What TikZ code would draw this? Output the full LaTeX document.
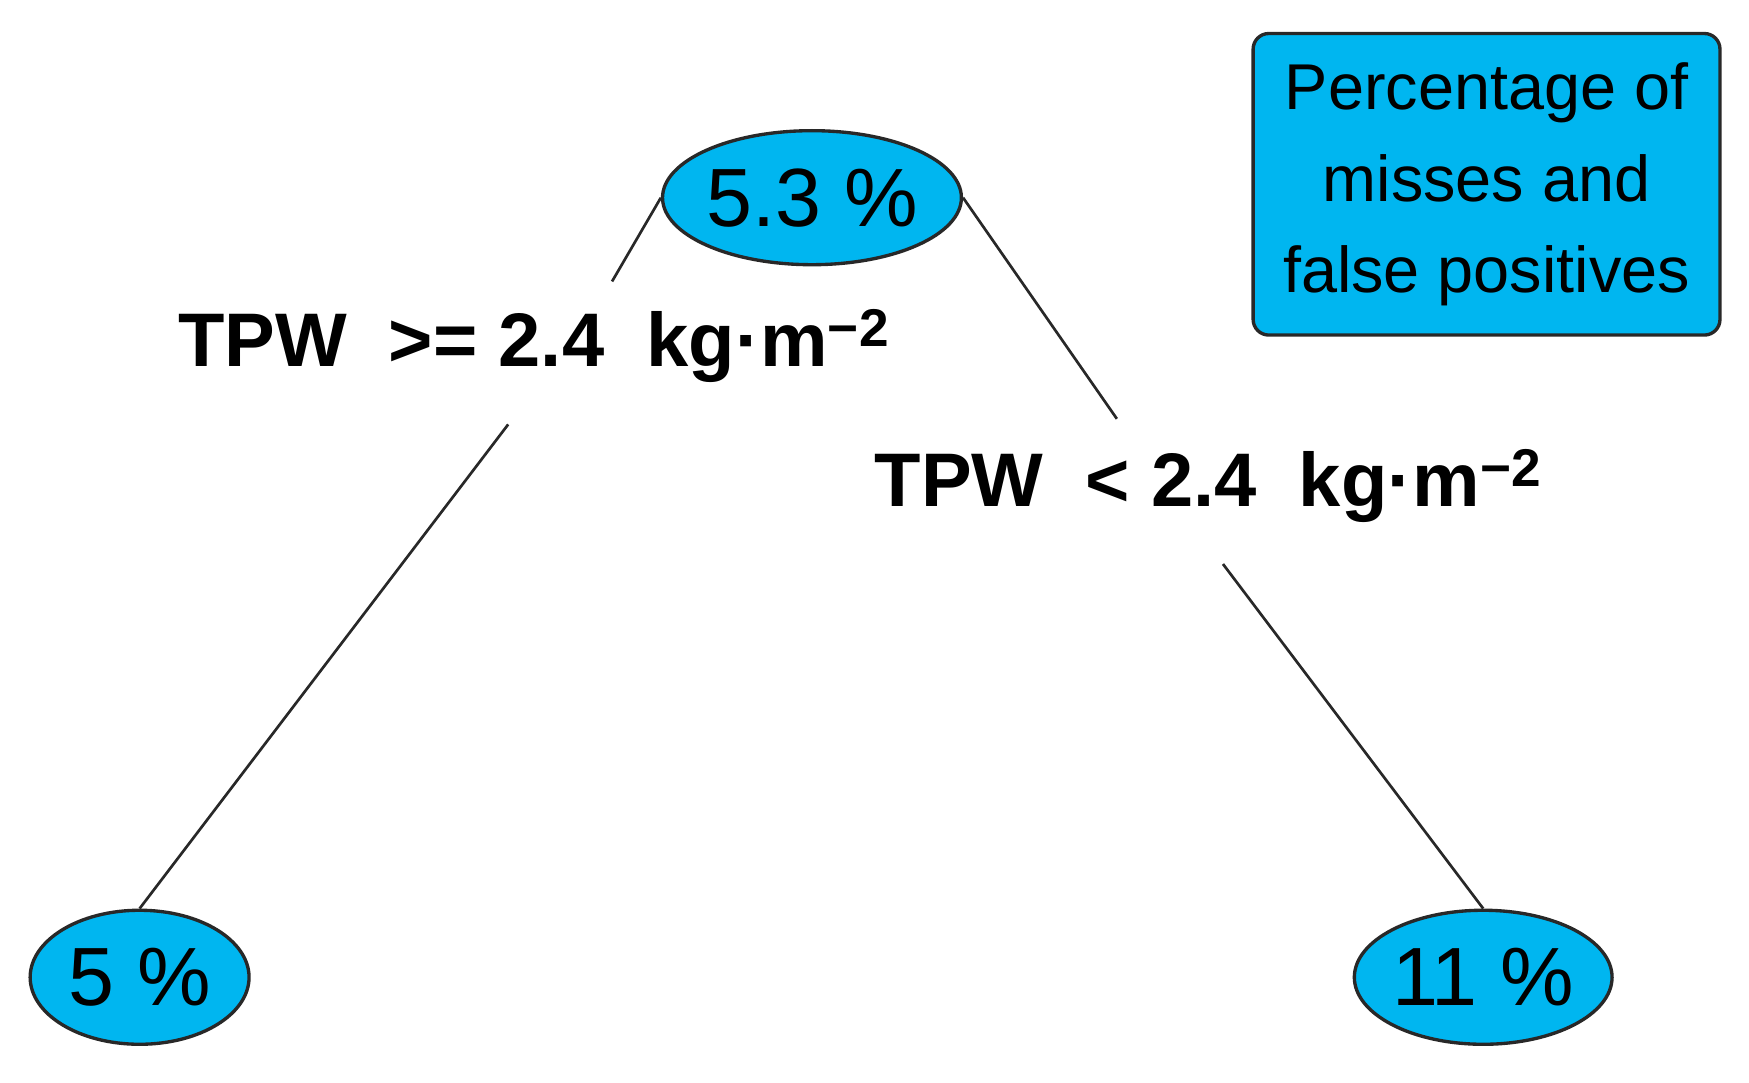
\documentclass[tikz,border=0pt]{standalone}
\usepackage{fontspec}
\setmainfont{Liberation Sans}
\definecolor{leafblue}{RGB}{0,182,240}
\tikzset{every picture/.style={line width=0.75pt}}
\tikzset{
  pctnode/.style={ellipse, draw={rgb,255:red,40;green,40;blue,40}, line width=1.5pt, fill=leafblue, inner sep=0pt, font=\fontsize{37}{44}\selectfont},
  rulelabel/.style={font=\fontsize{34}{40}\selectfont\bfseries},
  branch/.style={draw={rgb,255:red,40;green,40;blue,40}, line width=1.2pt}
}
\usetikzlibrary{shapes.geometric}
\begin{document}
\begin{tikzpicture}[x=0.5pt,y=0.5pt,yscale=-1,xscale=1]
\useasboundingbox (0,0) rectangle (1566,969);

% tree nodes
\node (root) [pctnode, minimum width=113pt, minimum height=60pt] at (727,177) {5.3 \%};
\node (lowleaf) [pctnode, minimum width=98pt, minimum height=60pt] at (125,875) {5 \%};
\node (highleaf) [pctnode, minimum width=105pt, minimum height=60pt] at (1328,875) {11 \%};

% legend box
\node (legend) [draw={rgb,255:red,40;green,40;blue,40}, line width=1.5pt, fill=leafblue, rounded corners=7pt, minimum width=209pt, minimum height=135pt, align=center, font=\fontsize{29}{41}\selectfont] at (1331,165) {Percentage of\\misses and\\ false positives};

% split labels
\node (ruleleft) [rulelabel] at (478,310) {TPW\ \ >= 2.4\ \ kg·m\textsuperscript{−2}};
\node (ruleright) [rulelabel] at (1082,435) {TPW\ \ < 2.4\ \ kg·m\textsuperscript{−2}};

% branch ends around the labels
\coordinate (la) at (548,252);
\coordinate (lb) at (455,380);
\coordinate (ra) at (1000,375);
\coordinate (rb) at (1095,505);

\draw [branch] (root.west) -- (la);
\draw [branch] (lb) -- (lowleaf.north);
\draw [branch] (root.east) -- (ra);
\draw [branch] (rb) -- (highleaf.north);

\end{tikzpicture}
\end{document}
